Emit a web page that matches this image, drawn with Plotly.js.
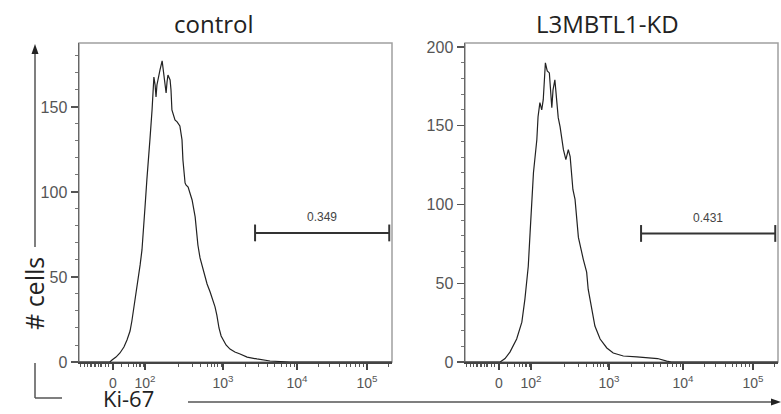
<!DOCTYPE html>
<html><head><meta charset="utf-8">
<script src="https://cdn.plot.ly/plotly-3.0.1.min.js"></script>
<style>html,body{margin:0;padding:0;background:#fff}#chart{width:781px;height:414px}</style>
</head><body><div id="chart"></div>
<script>
// Panel titles
const panelTitles = ["control", "L3MBTL1-KD"];
// Histogram data: x in display channels (0-1024 biexponential scale), y = # cells
const controlChannel = [0,69,101,108,121,134,147,157,167,173,183,187,193,200,206,213,216,222,226,232,239,242,245,249,252,255,262,265,272,275,278,281,285,288,291,298,301,304,308,314,321,330,337,340,347,350,357,363,370,380,386,389,396,402,412,419,429,438,445,451,458,465,471,481,494,510,527,550,582,625,658,690,1024];
const controlCount   = [0,0,0,1.2,2.9,5.3,8.8,12.9,18.2,24.1,36.5,38.8,48.2,57.1,65.9,80.6,91.2,107.1,114.7,130.6,148.2,160.0,167.6,162.9,155.9,162.9,170.0,171.8,177.1,172.9,167.6,161.2,158.2,164.7,168.8,165.9,160.0,148.2,145.3,142.3,141.2,138.8,130.6,118.8,105.3,104.1,102.9,99.4,95.3,85.3,74.7,68.8,61.2,57.1,49.4,45.9,41.2,36.5,32.4,27.6,20.0,15.3,12.9,10.0,7.6,5.9,4.7,2.9,1.8,0.6,0.3,0,0];
const kdChannel = [0,115,131,147,169,186,196,207,213,218,224,235,239,245,251,256,259,263,269,276,284,288,294,299,305,311,316,322,330,338,344,349,353,360,371,387,398,403,415,425,442,464,485,518,562,630,660,675,1024];
const kdCount   = [0,0,2.2,6.3,14.6,25.3,39.9,60.8,82.3,103.2,120.3,141.1,155.7,164.6,160.1,166.5,181.0,189.9,184.8,183.5,161.4,172.8,179.1,169.6,155.1,149.4,143.0,134.8,128.5,134.8,130.4,117.7,109.5,103.2,79.1,65.2,57.0,46.2,33.5,22.8,14.6,8.9,5.7,3.8,3.2,2.2,0.6,0,0];
// Gates (channel range) and percentage labels
const gateRange = [576, 1015];
const gateY = [75.9, 81.6];
const gateLabels = ["0.349", "0.431"];
// Axis ticks
const xTickVals = [111, 216, 471, 713, 942];
const xTickText = ["0", "10<sup>2</sup>", "10<sup>3</sup>", "10<sup>4</sup>", "10<sup>5</sup>"];
const xMinorVals = [6.5,16.4,26.2,36.0,42.5,49.1,55.6,62.2,68.7,75.2,85.1,94.9,137.4,160.3,176.7,186.5,196.3,202.8,209.4,323.9,369.7,395.9,418.8,435.1,444.9,454.7,464.6,543.1,585.6,615.1,638.0,660.9,677.2,690.3,703.4,781.9,821.1,850.6,873.5,889.8,906.2,919.2,932.3,1010.9];
const yTickValsL = [0, 50, 100, 150];
const yTickValsR = [0, 50, 100, 150, 200];
const yRangeL = [0, 187.6];
const yRangeR = [0, 202.5];
const xRange = [0, 1024];

const W = 781, H = 414;
const px = v => v / W, py = v => 1 - v / H;
const tickFont = {family: "Liberation Sans, Arial, sans-serif", size: 16, color: "#555"};
const xTickFont = {family: "Liberation Sans, Arial, sans-serif", size: 14, color: "#555"};

const histLine = {color: "#222", width: 1.2};
const traces = [
  {x: controlChannel, y: controlCount, xaxis: "x", yaxis: "y", mode: "lines", line: histLine, hoverinfo: "skip"},
  {x: kdChannel, y: kdCount, xaxis: "x2", yaxis: "y2", mode: "lines", line: histLine, hoverinfo: "skip"},
  {x: gateRange, y: [gateY[0], gateY[0]], xaxis: "x", yaxis: "y", mode: "lines+markers", line: {color: "#333", width: 2},
   marker: {symbol: "line-ns", size: 12, line: {width: 2, color: "#333"}}, hoverinfo: "skip"},
  {x: gateRange, y: [gateY[1], gateY[1]], xaxis: "x2", yaxis: "y2", mode: "lines+markers", line: {color: "#333", width: 2},
   marker: {symbol: "line-ns", size: 12, line: {width: 2, color: "#333"}}, hoverinfo: "skip"}
];

function xAxis(domain, anchor) {
  return {domain, anchor, range: xRange, tickmode: "array", tickvals: xTickVals, ticktext: xTickText,
    ticks: "outside", ticklen: 6, tickwidth: 1.2, tickcolor: "#444", tickfont: xTickFont,
    showline: true, linecolor: "#444", linewidth: 1.5, showgrid: false, zeroline: false, automargin: false,
    ticklabelstandoff: 2,
    minor: {tickmode: "array", tickvals: xMinorVals, ticks: "outside", ticklen: 3, tickwidth: 1, tickcolor: "#555", showgrid: false}};
}
function yAxis(domain, anchor, range, vals) {
  return {domain, anchor, range, tickmode: "array", tickvals: vals, ticktext: vals.map(String),
    ticks: "outside", ticklen: 7, tickwidth: 1.2, tickcolor: "#555", tickfont: tickFont,
    showline: true, linecolor: "#666", linewidth: 1.5, showgrid: false, zeroline: false, automargin: false,
    minor: {dtick: 10, ticks: "outside", ticklen: 3, tickwidth: 1, tickcolor: "#777", showgrid: false}};
}

const yDom = [py(362), py(43)];
const ink = "#555";
const shapes = [
  {type: "rect", xref: "x domain", yref: "y domain", x0: 0, x1: 1, y0: 0, y1: 1, line: {color: "#a0a0a0", width: 1.5}, layer: "below"},
  {type: "rect", xref: "x2 domain", yref: "y2 domain", x0: 0, x1: 1, y0: 0, y1: 1, line: {color: "#a0a0a0", width: 1.5}, layer: "below"},
  // y arrow
  {type: "line", xref: "paper", yref: "paper", x0: px(35), x1: px(35), y0: py(52), y1: py(247), line: {color: ink, width: 1.5}},
  {type: "path", xref: "paper", yref: "paper", path: `M ${px(35)} ${py(44)} L ${px(31.5)} ${py(54)} L ${px(38.5)} ${py(54)} Z`, fillcolor: "#222", line: {width: 0}},
  // corner L
  {type: "line", xref: "paper", yref: "paper", x0: px(35), x1: px(35), y0: py(363), y1: py(398), line: {color: ink, width: 1.5}},
  {type: "line", xref: "paper", yref: "paper", x0: px(35), x1: px(62), y0: py(398), y1: py(398), line: {color: ink, width: 1.5}},
  // x arrow
  {type: "line", xref: "paper", yref: "paper", x0: px(188), x1: px(773), y0: py(402), y1: py(402), line: {color: ink, width: 1.5}},
  {type: "path", xref: "paper", yref: "paper", path: `M ${px(781)} ${py(402)} L ${px(771)} ${py(398.5)} L ${px(771)} ${py(405.5)} Z`, fillcolor: "#222", line: {width: 0}}
];

const bigFont = "Open Sans, Noto Sans, sans-serif";
const titleFont = {family: bigFont, size: 24, color: "#222"};
const gateFont = {family: "Liberation Sans, Arial, sans-serif", size: 12, color: "#444"};
const annotations = [
  {text: panelTitles[0], xref: "paper", yref: "paper", x: px(214), y: py(23), showarrow: false, font: titleFont, xanchor: "center", yanchor: "middle"},
  {text: panelTitles[1], xref: "paper", yref: "paper", x: px(607), y: py(23), showarrow: false, font: titleFont, xanchor: "center", yanchor: "middle"},
  {text: "# cells", xref: "paper", yref: "paper", x: px(34), y: py(294), showarrow: false, textangle: -90, font: {family: bigFont, size: 25, color: "#222"}, xanchor: "center", yanchor: "middle"},
  {text: "Ki-67", xref: "paper", yref: "paper", x: px(128), y: py(398), showarrow: false, font: {family: bigFont, size: 22, color: "#222"}, xanchor: "center", yanchor: "middle"},
  {text: gateLabels[0], xref: "x", yref: "y", x: (gateRange[0] + gateRange[1]) / 2, y: gateY[0] + 4, showarrow: false, font: gateFont, yanchor: "bottom"},
  {text: gateLabels[1], xref: "x2", yref: "y2", x: (gateRange[0] + gateRange[1]) / 2, y: gateY[1] + 4, showarrow: false, font: gateFont, yanchor: "bottom"}
];

const layout = {
  width: W, height: H, margin: {l: 0, r: 0, t: 0, b: 0}, showlegend: false,
  paper_bgcolor: "#fff", plot_bgcolor: "#fff",
  xaxis: xAxis([px(79), px(392)], "y"),
  yaxis: yAxis(yDom, "x", yRangeL, yTickValsL),
  xaxis2: xAxis([px(465), px(778)], "y2"),
  yaxis2: yAxis(yDom, "x2", yRangeR, yTickValsR),
  shapes, annotations
};
Plotly.newPlot("chart", traces, layout, {staticPlot: true, displayModeBar: false});
</script></body></html>
